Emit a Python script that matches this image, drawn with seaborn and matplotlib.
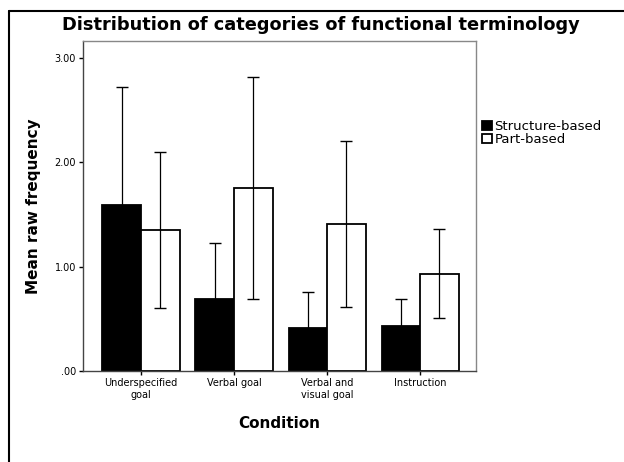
import numpy as np
import pandas as pd
import matplotlib
matplotlib.use("Agg")
import matplotlib.pyplot as plt
import seaborn as sns
from matplotlib.lines import Line2D
from matplotlib.ticker import FuncFormatter

conditions = ["Underspecified\ngoal", "Verbal goal", "Verbal and\nvisual goal", "Instruction"]
groups = ["Structure-based", "Part-based"]
structure_mean = [1.59, 0.69, 0.41, 0.43]
part_mean = [1.35, 1.75, 1.41, 0.93]
structure_err = [1.13, 0.54, 0.35, 0.26]
part_err = [0.75, 1.065, 0.795, 0.425]

df = pd.DataFrame({
    "Condition": conditions * 2,
    "Type": [groups[0]] * 4 + [groups[1]] * 4,
    "Mean": structure_mean + part_mean,
})

sns.set_style("white")
plt.rcParams["font.family"] = ["DejaVu Sans"]
plt.rcParams["text.color"] = "black"
plt.rcParams["axes.labelcolor"] = "black"

fig = plt.figure(figsize=(6.24, 4.62), dpi=100)
ax = fig.add_axes([83 / 624, 1 - 371 / 462, (476 - 83) / 624, (371 - 41) / 462])

sns.barplot(data=df, x="Condition", y="Mean", hue="Type", order=conditions,
            hue_order=groups, palette=["black", "white"], width=0.83,
            errorbar=None, edgecolor="black", linewidth=1.3, ax=ax)

# error bars on top of each bar
errs = {groups[0]: structure_err, groups[1]: part_err}
for cont, g in zip(ax.containers, groups):
    for patch, e in zip(cont.patches, errs[g]):
        xc = patch.get_x() + patch.get_width() / 2
        h = patch.get_height()
        ax.errorbar(xc, h, yerr=e, fmt="none", ecolor="black", elinewidth=0.9,
                    capsize=4, capthick=1)

ax.set_xlim(-0.624, 3.60)
ax.set_ylim(0, 3.16)
ax.set_yticks([0, 1, 2, 3])
ax.yaxis.set_major_formatter(FuncFormatter(lambda v, p: f"{v:.2f}".lstrip("0") if v < 1 else f"{v:.2f}"))
ax.tick_params(axis="both", direction="out", length=3, width=1, labelsize=7, pad=2,
               left=True, bottom=True, colors="black")
for s in ax.spines.values():
    s.set_color("#444444")
    s.set_linewidth(1)
ax.spines["right"].set_color("#888888")
ax.spines["top"].set_color("#888888")

ax.set_xlabel("Condition", fontsize=11, fontweight="bold", labelpad=12)
ax.set_ylabel("Mean raw frequency", fontsize=11, fontweight="bold", labelpad=10)
fig.text(0.515, 1 - 34 / 462, "Distribution of categories of functional terminology",
         ha="center", va="bottom", fontsize=12.8, fontweight="bold")

ax.legend(loc="upper left", bbox_to_anchor=(1.015, 0.76), frameon=False, fontsize=9.5,
          handlelength=0.75, handleheight=0.75, handletextpad=0.2, labelspacing=0.0,
          borderaxespad=0, borderpad=0)

# outer chart border
fig.add_artist(Line2D([9 / 624, 9 / 624], [0, 1 - 11 / 462], color="black", lw=1.5,
                      transform=fig.transFigure))
fig.add_artist(Line2D([9 / 624, 1], [1 - 11 / 462, 1 - 11 / 462], color="black", lw=1.5,
                      transform=fig.transFigure))

fig.savefig("out.png", dpi=100)
